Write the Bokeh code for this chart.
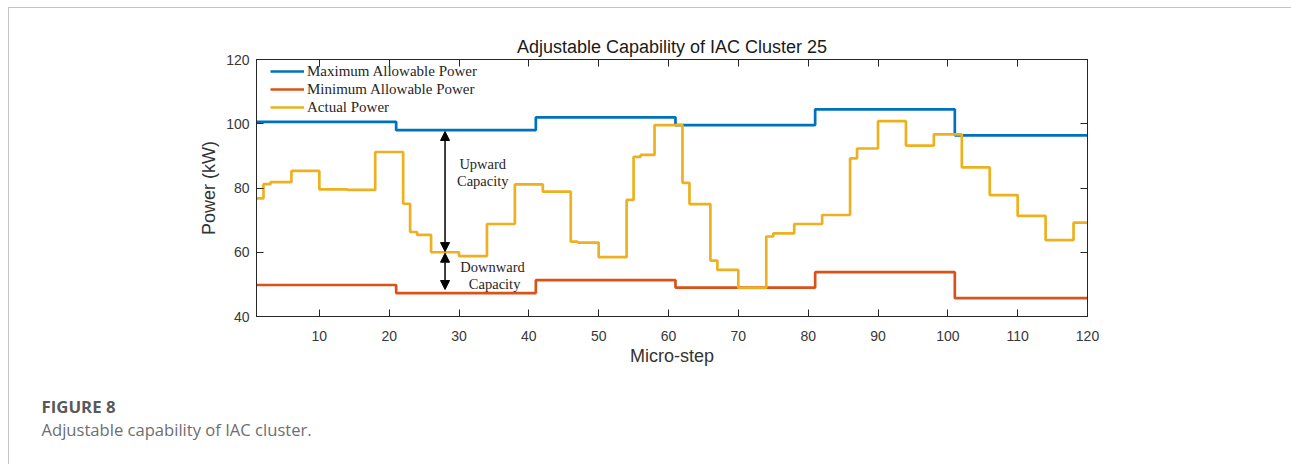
from bokeh.plotting import figure
from bokeh.models import (Range1d, LinearAxis, FixedTicker, Arrow, NormalHead, Title,
                          CustomJSTickFormatter, ColumnDataSource)
from bokeh.core.properties import value
from bokeh.embed import file_html
from bokeh.resources import INLINE

# ---------------- data ----------------
bound_x = [1, 21, 41, 61, 81, 101, 120]
max_power = [100.6, 98.0, 102.0, 99.6, 104.5, 96.4, 96.4]
min_power = [49.8, 47.3, 51.3, 49.0, 53.8, 45.7, 45.7]

actual_x = [1, 2, 3, 6, 10, 14, 18, 22, 23, 24, 26, 30, 34, 38, 42, 46, 47, 50,
            54, 55, 56, 58, 62, 63, 66, 67, 70, 74, 75, 78, 82, 86, 87, 90, 94,
            98, 102, 106, 110, 114, 118, 120]
actual_power = [76.8, 81.2, 81.8, 85.3, 79.6, 79.4, 91.2, 75.1, 66.3, 65.4, 60.0,
                58.8, 68.8, 81.1, 78.9, 63.3, 63.0, 58.5, 76.3, 89.7, 90.3, 99.6,
                81.6, 75.0, 57.4, 54.5, 48.9, 64.9, 65.9, 68.8, 71.6, 89.2, 92.3,
                100.8, 93.2, 96.7, 86.4, 77.8, 71.3, 63.8, 69.2, 69.2]

series_names = ["Maximum Allowable Power", "Minimum Allowable Power", "Actual Power"]
series_colors = ["#0072BD", "#D95319", "#EDB120"]

x_ticks = [10, 20, 30, 40, 50, 60, 70, 80, 90, 100, 110, 120]
y_ticks = [40, 60, 80, 100, 120]

arrow_x = 28
up_arrow = (97.6, 60.2)
down_arrow = (59.7, 48.4)
note_x = [33.4, 33.4, 34.8, 35.1]
note_y = [87.6, 82.2, 55.5, 50.0]
note_text = ["Upward", "Capacity", "Downward", "Capacity"]

caption_head = "FIGURE 8"
caption_text = "Adjustable capability of IAC cluster."

AX = "#262626"
LBL = "#383838"
SANS = "Liberation Sans"
SERIF = "Liberation Serif"

p = figure(frame_width=831, frame_height=257, output_backend="svg", toolbar_location=None,
           x_range=Range1d(1, 120), y_range=Range1d(40, 120),
           min_border_left=247, min_border_right=204, min_border_top=51, min_border_bottom=148,
           background_fill_color="white", border_fill_color="white")
p.styles = {"margin-left": "8px", "margin-top": "7px",
            "border-left": "1px solid #c4c4c4", "border-top": "1px solid #c4c4c4"}

p.title.text = "Adjustable Capability of IAC Cluster 25"
p.title.align = "center"
p.title.text_font = SANS
p.title.text_font_size = "18px"
p.title.text_font_style = "normal"
p.title.text_color = "#1a1a1a"
p.title.standoff = 5

p.grid.visible = False
p.outline_line_color = AX
p.outline_line_width = 1

for ax, ticks in ((p.xaxis[0], x_ticks), (p.yaxis[0], y_ticks)):
    ax.ticker = FixedTicker(ticks=ticks)
    ax.major_tick_in = 7
    ax.major_tick_out = 0
    ax.minor_tick_line_color = None
    ax.axis_line_color = AX
    ax.major_tick_line_color = AX
    ax.major_label_text_font = SANS
    ax.major_label_text_font_size = "14px"
    ax.major_label_text_color = LBL
    ax.axis_label_text_font = SANS
    ax.axis_label_text_font_size = "18px"
    ax.axis_label_text_font_style = "normal"
    ax.axis_label_text_color = "#333333"

p.xaxis[0].axis_label = "Micro-step"
p.xaxis[0].major_label_standoff = 14
p.xaxis[0].axis_label_standoff = 2
p.yaxis[0].axis_label = "Power (kW)"
p.yaxis[0].major_label_standoff = 7
p.yaxis[0].axis_label_standoff = 4

blank = CustomJSTickFormatter(code="return ''")
top_ax = LinearAxis(ticker=FixedTicker(ticks=x_ticks), formatter=blank,
                    major_tick_in=7, major_tick_out=0, minor_tick_line_color=None,
                    axis_line_color=AX, major_tick_line_color=AX, major_label_standoff=0)
right_ax = LinearAxis(ticker=FixedTicker(ticks=y_ticks), formatter=blank,
                      major_tick_in=7, major_tick_out=0, minor_tick_line_color=None,
                      axis_line_color=AX, major_tick_line_color=AX, major_label_standoff=0)
p.add_layout(top_ax, "above")
p.add_layout(right_ax, "right")

lw = 2.7
p.step(bound_x, max_power, mode="after", line_color=series_colors[0], line_width=lw,
       legend_label=series_names[0])
p.step(bound_x, min_power, mode="after", line_color=series_colors[1], line_width=lw,
       legend_label=series_names[1])
p.step(actual_x, actual_power, mode="after", line_color=series_colors[2], line_width=lw,
       legend_label=series_names[2])

head = dict(size=9, fill_color="black", line_color="black")
p.add_layout(Arrow(start=NormalHead(**head), end=NormalHead(**head),
                   x_start=arrow_x, y_start=up_arrow[1], x_end=arrow_x, y_end=up_arrow[0],
                   line_color="black", line_width=1.5))
p.add_layout(Arrow(start=NormalHead(**head), end=NormalHead(**head),
                   x_start=arrow_x, y_start=down_arrow[1], x_end=arrow_x, y_end=down_arrow[0],
                   line_color="black", line_width=1.5))

notes = ColumnDataSource(dict(x=note_x, y=note_y, t=note_text))
p.text(x="x", y="y", text="t", source=notes, text_font=value(SERIF),
       text_font_size="14.5px", text_align="center", text_baseline="middle",
       text_color="#262626")

lg = p.legend[0]
lg.location = (14, 200)
lg.padding = 0
lg.spacing = 0
lg.margin = 0
lg.glyph_width = 34
lg.glyph_height = 18
lg.label_height = 18
lg.label_standoff = 3
lg.label_text_font = SERIF
lg.label_text_font_size = "15px"
lg.label_text_color = "#262626"
lg.background_fill_alpha = 0
lg.border_line_alpha = 0

# caption under the chart
p.add_layout(Title(text=caption_head, align="left", offset=-215, standoff=49,
                   text_font="Open Sans", text_font_size="16.8px", text_font_style="bold",
                   text_color="#58595b"), "below")
p.add_layout(Title(text=caption_text, align="left", offset=-215, standoff=-49,
                   vertical_align="top",
                   text_font="Open Sans", text_font_size="16.6px", text_font_style="normal",
                   text_color="#6d6e71"), "below")

open("out.html", "w").write(file_html(p, INLINE))
